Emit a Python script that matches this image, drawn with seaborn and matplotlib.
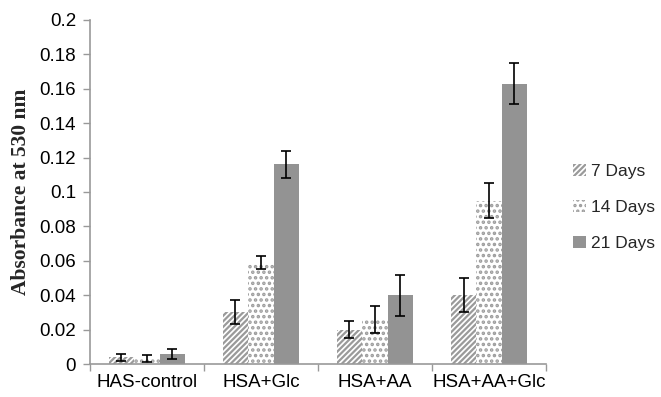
import pandas as pd
import numpy as np
import matplotlib
matplotlib.use("Agg")
import matplotlib.pyplot as plt
import seaborn as sns

# Dados
groups = ['HAS-control', 'HSA+Glc', 'HSA+AA', 'HSA+AA+Glc']
periods = ['7 Days', '14 Days', '21 Days']
days7 = [0.004, 0.030, 0.020, 0.040]
days14 = [0.003, 0.059, 0.026, 0.095]
days21 = [0.006, 0.116, 0.040, 0.163]
err7 = [0.002, 0.007, 0.005, 0.010]
err14 = [0.002, 0.004, 0.008, 0.010]
err21 = [0.003, 0.008, 0.012, 0.012]

sns.set_theme(style="white")
plt.rcParams['font.family'] = ['Liberation Sans', 'DejaVu Sans']
plt.rcParams['hatch.linewidth'] = 1.6

df = pd.DataFrame({
    'group': groups * 3,
    'period': [p for p in periods for _ in groups],
    'value': days7 + days14 + days21,
    'err': err7 + err14 + err21,
})

fig = plt.figure(figsize=(6.61, 3.97), dpi=100)
ax = fig.add_axes([0.136, 0.083, 0.690, 0.867])

sns.barplot(data=df, x='group', y='value', hue='period', hue_order=periods,
            order=groups, palette=['#939393'] * 3, errorbar=None, width=0.67,
            saturation=1, ax=ax, legend=False)

# Estilos de preenchimento por período
styles = [('white', '#9a9a9a', '//////', 1.6),
          ('white', '#9c9c9c', '...', 1.7),
          ('#939393', '#939393', None, 1.0)]
errs = [err7, err14, err21]
for cont, (fc, ec, h, hlw), e in zip(ax.containers, styles, errs):
    for patch in cont.patches:
        patch.set_facecolor(fc)
        patch.set_edgecolor(ec)
        patch.set_linewidth(0)
        if h:
            patch.set_hatch(h)
            patch.set_hatch_linewidth(hlw)
    xs = [p.get_x() + p.get_width() / 2 for p in cont.patches]
    ys = [p.get_height() for p in cont.patches]
    ax.errorbar(xs, ys, yerr=e, fmt='none', ecolor='black', elinewidth=1.2,
                capsize=3.5, capthick=1.2)

ax.set_ylim(0, 0.2)
ax.set_xlim(-0.5, 3.5)
ax.set_yticks(np.arange(0, 0.201, 0.02))
ax.set_yticklabels(['0', '0.02', '0.04', '0.06', '0.08', '0.1', '0.12',
                    '0.14', '0.16', '0.18', '0.2'])
ax.set_xticks([-0.5, 0.5, 1.5, 2.5, 3.5], minor=True)
ax.tick_params(axis='x', which='major', length=0, labelsize=13.5, pad=7)
ax.tick_params(axis='x', which='minor', length=5, width=1, color='#999999', direction='out', bottom=True)
ax.tick_params(axis='y', length=5, width=1, color='#999999', labelsize=13.5, left=True, pad=5)
for lab in ax.get_yticklabels() + ax.get_xticklabels():
    lab.set_color('black')
ax.set_xlabel('')
ax.set_ylabel('Absorbance at 530 nm', fontsize=15.5, fontweight='bold',
              family=['Liberation Serif', 'DejaVu Serif'], labelpad=6)

sns.despine(ax=ax)
for s in ['left', 'bottom']:
    ax.spines[s].set_color('#999999')
    ax.spines[s].set_linewidth(1.2)

ax.legend(ax.containers, periods, loc='center left', bbox_to_anchor=(1.045, 0.455),
          borderaxespad=0, frameon=False, fontsize=12.5, handlelength=0.7,
          handleheight=0.7, handletextpad=0.3, labelspacing=1.18)

plt.savefig('out.png', dpi=100)
